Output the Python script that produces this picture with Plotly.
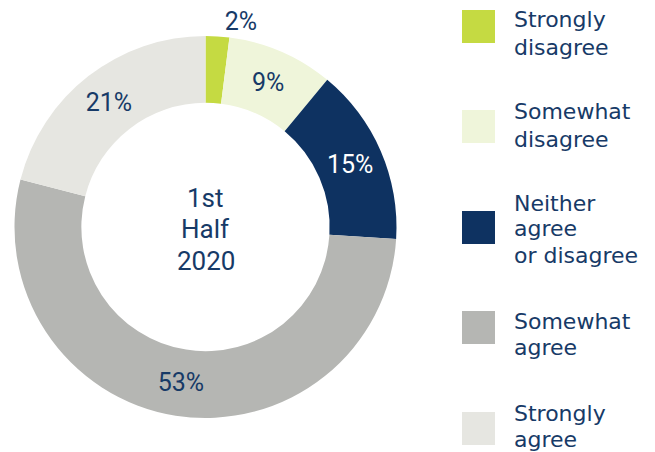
import plotly.graph_objects as go

categories = ["Strongly disagree", "Somewhat disagree", "Neither agree or disagree", "Somewhat agree", "Strongly agree"]
legend_lines = [["Strongly", "disagree"], ["Somewhat", "disagree"], ["Neither", "agree", "or disagree"],
                ["Somewhat", "agree"], ["Strongly", "agree"]]
values = [2, 9, 15, 53, 21]
colors = ["#c5da42", "#eff5da", "#0e3261", "#b5b6b3", "#e6e6e1"]
center_lines = ["1st", "Half", "2020"]

TEXT = "#173a67"
NUM_FONT = "Roboto"
LEG_FONT = "DejaVu Sans"
W, H = 655, 452
CX, CY, R = 205.5, 227, 191  # pixel layout of the donut

def py(y):
    return 1 - y / H

fig = go.Figure()
fig.add_trace(go.Pie(
    labels=categories,
    values=values,
    hole=0.65,
    sort=False,
    direction="clockwise",
    rotation=0,
    marker=dict(colors=colors, line=dict(width=0)),
    texttemplate="%{value}%",
    textposition=["outside", "inside", "inside", "inside", "inside"],
    insidetextorientation="horizontal",
    textfont=dict(family=NUM_FONT, size=25, color=[TEXT, TEXT, "white", TEXT, TEXT]),
    showlegend=False,
    domain=dict(x=[(CX - R) / W, (CX + R) / W], y=[py(CY + R), py(CY - R)]),
    hoverinfo="label+percent",
))

# centre text, one annotation per line
center_y = [197.5, 228.5, 260.5]
for line, y in zip(center_lines, center_y):
    fig.add_annotation(x=CX / W, y=py(y), xref="paper", yref="paper",
                       text=line, showarrow=False, xanchor="center", yanchor="middle",
                       font=dict(family=NUM_FONT, size=26, color=TEXT))

# legend: swatches + text lines
sq_tops = [10, 110, 211, 311, 412]
line_y = [[20, 47], [112, 139], [203, 229, 255], [321, 347], [413, 439]]
for lines, col, t, ys in zip(legend_lines, colors, sq_tops, line_y):
    fig.add_shape(type="rect", xref="paper", yref="paper",
                  x0=462 / W, x1=495 / W, y0=py(t + 33), y1=py(t),
                  fillcolor=col, line=dict(width=0))
    for line, y in zip(lines, ys):
        fig.add_annotation(x=513 / W, y=py(y), xref="paper", yref="paper",
                           text=line, showarrow=False, xanchor="left", yanchor="middle", align="left",
                           borderpad=0,
                           font=dict(family=LEG_FONT, size=22, color=TEXT))

fig.update_layout(
    width=W, height=H,
    margin=dict(l=0, r=0, t=0, b=0),
    paper_bgcolor="white", plot_bgcolor="white",
    uniformtext=dict(mode="show", minsize=25),
)
fig.write_html("out.html", config={"displayModeBar": False},
               post_script="document.body.style.margin='0';")
